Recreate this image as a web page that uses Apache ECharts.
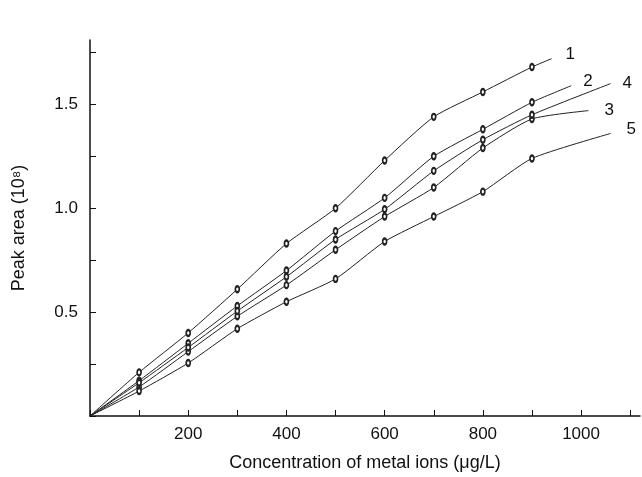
<!DOCTYPE html>
<html>
<head>
<meta charset="UTF-8">
<script src="https://cdn.jsdelivr.net/npm/echarts@6/dist/echarts.min.js"></script>
</head>
<body style="margin:0">
<div id="main" style="width:642px;height:477px;"></div>
<script>
var concentrations = [0, 100, 200, 300, 400, 500, 600, 700, 800, 900];
var names = ['1', '2', '3', '4', '5'];
var s1 = [0, 0.21, 0.40, 0.61, 0.83, 1.00, 1.23, 1.44, 1.56, 1.68];
var s2 = [0, 0.17, 0.35, 0.53, 0.70, 0.89, 1.05, 1.25, 1.38, 1.51];
var s3 = [0, 0.14, 0.31, 0.48, 0.63, 0.80, 0.96, 1.10, 1.29, 1.43];
var s4 = [0, 0.16, 0.33, 0.505, 0.67, 0.85, 0.995, 1.18, 1.33, 1.45];
var s5 = [0, 0.12, 0.255, 0.42, 0.55, 0.66, 0.84, 0.96, 1.08, 1.24];
// end of each curve, beyond the last measured point
var ends = [[940, 1.72], [980, 1.59], [1015, 1.47], [1060, 1.60], [1060, 1.36]];
var labelOffsets = [[6, -4], [4, -4], [8, 0], [4, 0], [8, -4]];
var allSeries = [s1, s2, s3, s4, s5];

var myChart = echarts.init(document.getElementById('main'));
var font = 'Liberation Sans, Arial, sans-serif';

var series = allSeries.map(function (vals, i) {
    var data = concentrations.map(function (c, j) {
        var item = { value: [c, vals[j]] };
        if (j === 0) item.symbol = 'none';
        return item;
    });
    data.push({ value: ends[i], symbol: 'none' });
    return {
        name: names[i],
        type: 'line',
        smooth: 0.2,
        data: data,
        symbol: 'emptyCircle',
        symbolSize: [4, 6],
        itemStyle: { color: '#222', borderWidth: 0.8 },
        lineStyle: { color: '#222', width: 1 },
        endLabel: {
            show: true,
            formatter: names[i],
            color: '#111',
            fontSize: 17,
            fontFamily: font,
            offset: labelOffsets[i]
        },
        animation: false
    };
});

var option = {
    grid: { left: 90, right: 2, top: 40, bottom: 56 },
    xAxis: {
        type: 'value',
        min: 0, max: 1120, interval: 100,
        name: 'Concentration of metal ions (\u03bcg/L)',
        nameLocation: 'middle', nameGap: 38,
        nameTextStyle: { fontSize: 18, fontFamily: font, color: '#111' },
        axisLine: { lineStyle: { color: '#111', width: 1.5 } },
        axisTick: { inside: true, length: 6, lineStyle: { color: '#111' } },
        axisLabel: {
            fontSize: 17, fontFamily: font, color: '#111', margin: 10,
            showMaxLabel: false,
            formatter: function (v) { return (v > 0 && v % 200 === 0) ? String(v) : ''; }
        },
        splitLine: { show: false }
    },
    yAxis: {
        type: 'value',
        min: 0, max: 1.81, interval: 0.25,
        name: 'Peak area (10\u2078)',
        nameLocation: 'middle', nameGap: 62,
        nameTextStyle: { fontSize: 18, fontFamily: font, color: '#111' },
        axisLine: { show: true, lineStyle: { color: '#111', width: 1.5 } },
        axisTick: { inside: true, length: 6, lineStyle: { color: '#111' } },
        axisLabel: {
            fontSize: 17, fontFamily: font, color: '#111', margin: 12,
            showMaxLabel: false,
            formatter: function (v) { return (v > 0 && Math.abs(v * 2 - Math.round(v * 2)) < 1e-6) ? v.toFixed(1) : ''; }
        },
        splitLine: { show: false }
    },
    series: series
};
myChart.setOption(option);
</script>
</body>
</html>
